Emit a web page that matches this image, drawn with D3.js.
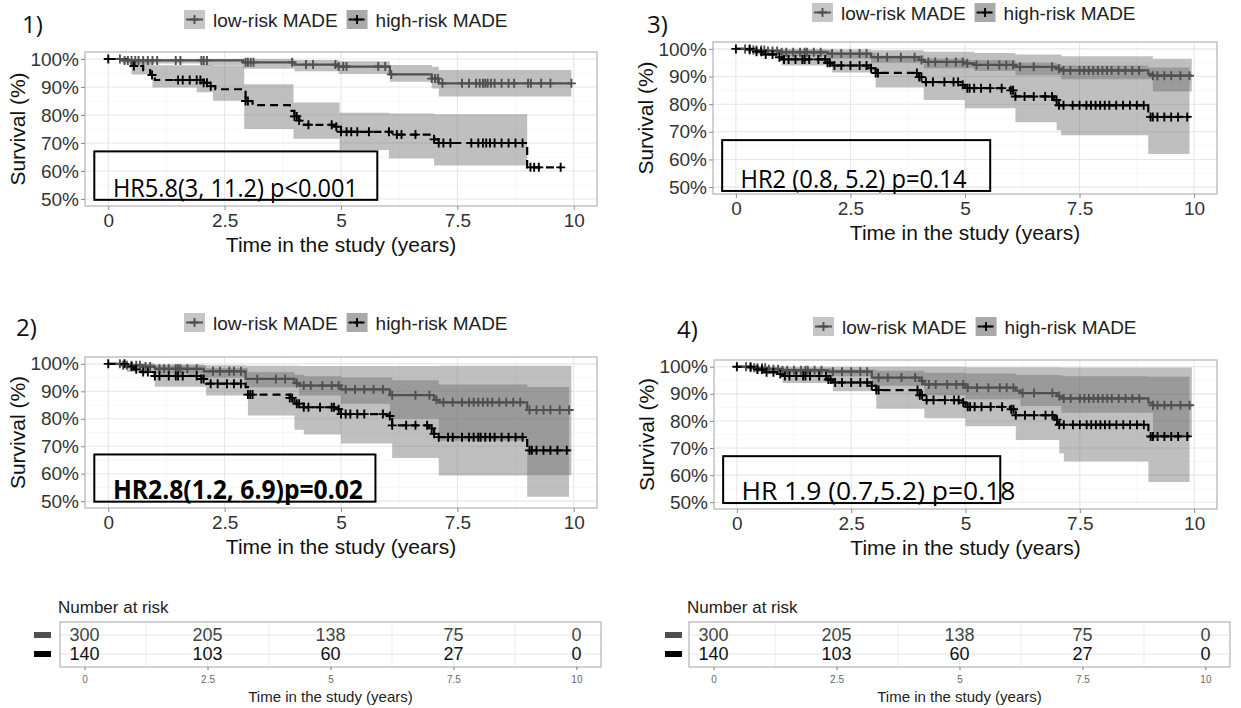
<!DOCTYPE html>
<html>
<head>
<meta charset="utf-8">
<script src="https://cdn.jsdelivr.net/npm/d3@7"></script>
<style>
  body { margin: 0; background: #fff; }
  svg { display: block; font-family: "Liberation Sans", Arial, sans-serif; }
</style>
</head>
<body>
<script>
// ---- data ----
var xTicks = [0, 2.5, 5, 7.5, 10];
var yTicks = [50, 60, 70, 80, 90, 100];
var xMinor = [1.25, 3.75, 6.25, 8.75];
var yMinor = [55, 65, 75, 85, 95];
var groups = ["low-risk MADE", "high-risk MADE"];

// panel 1
var p1LowSurv = [[0,100],[0.3,99.5],[2.9,98.8],[4.0,98],[4.95,97.3],[6.05,94.5],[6.95,93],[7.1,91.3]];
var p1HighSurv = [[0,100],[0.5,97.5],[0.75,96],[0.9,94.3],[1.0,92.5],[2.05,91.5],[2.2,90.3],[2.3,89.2],[2.95,85],[3.1,83.5],[3.9,81.5],[4.0,79.5],[4.1,78],[4.2,76.5],[4.9,75.8],[5.0,74],[6.1,73],[7.0,71.3],[7.1,70],[9.0,61.3]];
var p1LowCI = [[0,100,100],[0.3,100,98.4],[2.0,100,97.6],[2.9,100,96.5],[4.0,99.6,95.6],[4.95,99.2,94.6],[6.05,97.9,91.9],[6.95,97.2,89.5],[7.1,96.1,86.6]];
var p1HighCI = [[0.5,100,94.5],[0.95,97.8,89.8],[1.9,97.8,88.1],[2.25,97.5,85.1],[2.92,91,75],[3.98,84.5,71.5],[4.97,80.8,67.5],[6.03,80.5,64.5],[7.0,80.3,62]];
var p1Ends = [9.95, 9.7, 9.95, 9.0];
var p1LowCens = [0.25,0.35,0.42,0.5,0.58,0.65,0.75,0.85,0.95,1.05,1.45,1.55,2.0,2.05,2.12,2.95,3.0,3.06,3.12,3.95,4.25,4.4,4.88,4.95,5.05,5.12,5.8,5.95,6.08,6.95,7.02,7.08,7.18,7.6,7.75,7.9,7.98,8.05,8.1,8.15,8.22,8.3,8.45,8.6,8.72,9.02,9.08,9.3,9.5,9.95];
var p1HighCens = [0.55,0.94,1.5,1.6,1.75,1.9,1.98,2.05,2.12,2.2,2.95,3.0,4.0,4.05,4.1,4.3,4.8,4.9,5.0,5.12,5.22,5.35,5.6,6.03,6.2,6.3,6.6,7.0,7.1,7.2,7.35,7.8,7.95,8.05,8.12,8.2,8.3,8.45,8.6,8.75,8.9,9.07,9.15,9.25,9.72];

// panel 2
var p2LowSurv = [[0,100],[0.3,99.5],[0.7,99],[1.0,98.2],[2.05,97.3],[2.95,94.5],[4.0,93],[4.1,92.1],[5.0,90.7],[6.05,88.6],[7.0,86.9],[7.1,86],[9.0,83.2]];
var p2HighSurv = [[0,100],[0.4,99],[0.55,98],[0.7,97],[1.0,95.6],[2.0,94.5],[2.1,92.8],[2.95,91.5],[3.0,88.8],[3.9,87.6],[4.0,85.5],[4.2,84.2],[4.9,83.5],[5.0,81.7],[6.0,81],[6.1,77.6],[6.9,76.5],[7.0,74.5],[7.1,73.3],[9.0,68.5]];
var p2LowCI = [[0,100,100],[0.3,100,98.5],[1.0,99.8,96.5],[2.05,99.5,95],[2.95,99.3,91.5],[4.1,99.2,88.5],[5.0,99.2,85.5],[6.05,99.2,80],[7.1,99.3,72],[9.0,99.3,59.4]];
var p2HighCI = [[0.4,100,97],[1.0,99.5,91.7],[2.1,98.5,88.5],[3.0,97,81.2],[4.0,96,76],[4.2,95.5,74.3],[5.0,95,71],[6.1,94,65.7],[7.1,92.5,59.3],[9.0,91.6,51.6]];
var p2Ends = [9.95, 9.9, 9.95, 9.9];
var p2LowCens = [0.25,0.32,0.4,0.5,0.6,0.68,0.8,0.9,1.1,1.2,1.3,1.45,1.5,1.55,1.7,1.9,2.25,2.4,2.6,2.7,2.85,3.2,3.6,3.8,4.05,4.2,4.35,4.6,4.8,4.95,5.1,5.3,5.5,5.7,5.9,6.1,6.6,6.9,7.05,7.2,7.4,7.6,7.75,7.85,7.95,8.05,8.15,8.25,8.4,8.55,8.7,8.85,9.05,9.2,9.35,9.5,9.7,9.9];
var p2HighCens = [0.35,0.5,0.6,0.75,0.85,1.0,1.1,1.3,1.45,1.5,1.6,1.9,2.0,2.05,2.2,2.35,2.55,2.7,2.85,3.0,3.05,3.1,3.9,3.95,4.05,4.1,4.2,4.3,4.55,4.8,4.85,4.95,5.0,5.1,5.2,5.35,5.5,5.9,6.05,6.1,6.4,6.6,6.85,6.95,7.0,7.1,7.3,7.4,7.6,7.75,7.85,7.95,8.0,8.1,8.2,8.3,8.45,8.6,8.75,8.9,9.05,9.1,9.2,9.35,9.5,9.65,9.85];

// panel 3
var p3LowSurv = [[0,100],[0.3,99.6],[0.7,99.2],[1.0,98.8],[2.0,98.3],[2.95,97],[4.0,96],[4.1,95.3],[5.0,94.8],[5.2,94.2],[6.1,93.5],[7.0,92.8],[7.1,92.2],[9.0,91],[9.1,90.3]];
var p3HighSurv = [[0,100],[0.4,99],[0.6,98],[0.9,97],[1.0,96.2],[2.0,95],[2.1,94],[2.95,93],[3.05,91.3],[4.0,89.8],[4.1,88],[4.9,87],[5.0,85.8],[6.0,85],[6.1,82.8],[6.95,81.5],[7.05,79.6],[9.0,75.4]];
var p3LowCI = [[0,100,100],[0.3,100,99],[1.0,100,97.5],[2.0,99.8,96.5],[2.95,99.5,95],[4.1,99,93],[5.2,98.5,92],[6.1,98,90.5],[7.1,97.3,89],[9.1,96.4,84.6]];
var p3HighCI = [[0.4,100,98],[1.0,99.5,94],[2.1,98.5,91.5],[3.05,97.5,86],[4.1,96.5,81.5],[5.0,96,78.5],[6.1,95,73.5],[7.0,94.5,70.6],[7.1,94,68.8],[9.0,93.3,62]];
var p3Ends = [9.95, 9.9, 9.95, 9.9];
var p3LowCens = [0.2,0.3,0.38,0.45,0.55,0.62,0.7,0.8,0.9,1.0,1.1,1.25,1.4,1.5,1.55,1.7,1.85,2.1,2.3,2.5,2.7,2.85,3.1,3.3,3.6,3.9,4.05,4.2,4.35,4.6,4.8,4.95,5.05,5.25,5.5,5.75,5.9,6.05,6.2,6.5,6.9,7.05,7.15,7.3,7.5,7.6,7.7,7.8,7.9,8.0,8.1,8.2,8.35,8.5,8.65,8.8,9.1,9.2,9.35,9.5,9.7,9.9];
var p3HighCens = [0.3,0.45,0.55,0.65,0.8,0.95,1.05,1.15,1.3,1.45,1.5,1.6,1.8,1.95,2.0,2.05,2.15,2.3,2.5,2.7,2.85,2.95,3.05,3.1,3.95,4.0,4.05,4.15,4.3,4.55,4.75,4.85,4.95,5.05,5.1,5.2,5.35,5.55,5.8,6.0,6.05,6.1,6.3,6.5,6.75,6.9,7.0,7.05,7.15,7.35,7.5,7.65,7.75,7.85,7.95,8.05,8.15,8.3,8.45,8.6,8.75,8.9,9.05,9.1,9.2,9.35,9.5,9.65,9.85];

// panel 4
var p4LowSurv = [[0,100],[0.3,99.6],[0.7,99.1],[1.0,98.7],[2.0,98.2],[2.95,96],[4.0,94.8],[4.1,93.5],[5.0,92.3],[6.1,91.2],[6.2,90.3],[7.0,89.2],[7.1,88.3],[9.0,86.8],[9.1,85.8]];
var p4HighSurv = [[0,100],[0.4,99],[0.6,98],[0.9,97.3],[1.0,96.6],[2.0,95.3],[2.1,94.2],[2.95,93],[3.05,91.4],[4.0,89.5],[4.1,87.7],[4.9,86.8],[5.0,85.2],[6.0,84.3],[6.1,82.1],[6.95,80.5],[7.05,78.6],[9.0,74.3]];
var p4LowCI = [[0,100,100],[0.3,100,99],[1.0,100,97.5],[2.0,100,96.5],[2.95,100,93],[4.1,100,89.5],[5.0,99.8,88],[6.2,99.8,85.5],[7.1,99.7,83],[9.1,99.7,74.3]];
var p4HighCI = [[0.4,100,98],[1.0,99.5,94],[2.1,99,91],[3.05,98.5,84.5],[4.1,97.8,81],[5.0,97.5,78],[6.1,97,73],[7.05,96.8,68],[7.15,96.5,65],[9.0,96.3,57.5]];
var p4Ends = [9.95, 9.9, 9.95, 9.9];
var p4LowCens = [0.2,0.3,0.38,0.45,0.55,0.62,0.7,0.8,0.9,1.0,1.1,1.25,1.4,1.5,1.55,1.7,1.85,2.1,2.3,2.5,2.7,2.85,3.1,3.3,3.6,3.9,4.05,4.2,4.35,4.6,4.8,4.95,5.05,5.25,5.5,5.75,5.9,6.05,6.25,6.5,6.9,7.05,7.15,7.3,7.5,7.6,7.7,7.8,7.9,8.0,8.1,8.2,8.35,8.5,8.65,8.8,9.1,9.2,9.35,9.5,9.7,9.9];
var p4HighCens = [0.3,0.45,0.55,0.65,0.8,0.95,1.05,1.15,1.3,1.45,1.5,1.6,1.8,1.95,2.0,2.05,2.15,2.3,2.5,2.7,2.85,2.95,3.05,3.1,3.95,4.0,4.05,4.15,4.3,4.55,4.75,4.85,4.95,5.05,5.1,5.2,5.35,5.55,5.8,6.0,6.05,6.1,6.3,6.5,6.75,6.9,7.0,7.05,7.15,7.35,7.5,7.65,7.75,7.85,7.95,8.05,8.15,8.3,8.45,8.6,8.75,8.9,9.05,9.1,9.2,9.35,9.5,9.65,9.85];

// number at risk
var riskTimes = [0, 2.5, 5, 7.5, 10];
var riskLow = [300, 205, 138, 75, 0];
var riskHigh = [140, 103, 60, 27, 0];

var hrLabels = ["HR5.8(3, 11.2) p<0.001", "HR2.8(1.2, 6.9)p=0.02", "HR2 (0.8, 5.2) p=0.14", "HR 1.9 (0.7,5.2) p=0.18"];

// ---- layout ----
var W = 1241, H = 708;
var lowCol = "#505050", highCol = "#000000";
var lowFill = "#c6c6c6", highFill = "#a9a9a9";
var bandFill = "#676767", bandAlpha = 0.42;

var svg = d3.select("body").append("svg").attr("width", W).attr("height", H);

var panels = [
  {tag: "1)", tagX: 22, tagY: 33, x: 85, y: 52, w: 512, h: 154, legY: 27, hrLen: 245, hrBold: false, hrRight: 5.78, hrBottom: 49.7,
   low: p1LowSurv, high: p1HighSurv, lowCI: p1LowCI, highCI: p1HighCI, ends: p1Ends, lowCens: p1LowCens, highCens: p1HighCens, hr: hrLabels[0]},
  {tag: "2)", tagX: 16, tagY: 336, x: 85, y: 357, w: 512, h: 151, legY: 330, hrLen: 250, hrBold: true, hrRight: 5.74, hrBottom: 49.8,
   low: p2LowSurv, high: p2HighSurv, lowCI: p2LowCI, highCI: p2HighCI, ends: p2Ends, lowCens: p2LowCens, highCens: p2HighCens, hr: hrLabels[1]},
  {tag: "3)", tagX: 647, tagY: 33, x: 713, y: 42, w: 504, h: 152, legY: 20, hrLen: 226, hrBold: false, hrRight: 5.55, hrBottom: 48.6,
   low: p3LowSurv, high: p3HighSurv, lowCI: p3LowCI, highCI: p3HighCI, ends: p3Ends, lowCens: p3LowCens, highCens: p3HighCens, hr: hrLabels[2]},
  {tag: "4)", tagX: 677, tagY: 338, x: 714, y: 360, w: 503, h: 149, legY: 334, hrLen: 274, hrBold: false, hrRight: 5.76, hrBottom: 49.7,
   low: p4LowSurv, high: p4HighSurv, lowCI: p4LowCI, highCI: p4HighCI, ends: p4Ends, lowCens: p4LowCens, highCens: p4HighCens, hr: hrLabels[3]}
];

function stepValue(steps, t) {
  var v = steps[0][1];
  steps.forEach(function(d){ if (d[0] <= t) v = d[1]; });
  return v;
}

function plus(g, cx, cy, col) {
  g.append("path")
    .attr("d", "M" + (cx - 4.5) + "," + cy + "h9M" + cx + "," + (cy - 4.5) + "v9")
    .attr("stroke", col).attr("stroke-width", 1.9).attr("fill", "none");
}

function drawPanel(p, i) {
  var g = svg.append("g");
  var x = d3.scaleLinear().domain([-0.5, 10.5]).range([p.x, p.x + p.w]);
  var y = d3.scaleLinear().domain([47.5, 102.5]).range([p.y + p.h, p.y]);

  g.append("clipPath").attr("id", "clip" + i)
    .append("rect").attr("x", p.x).attr("y", p.y).attr("width", p.w).attr("height", p.h);

  // grid
  g.selectAll(".vmin").data(xMinor).enter().append("line")
    .attr("x1", d => x(d)).attr("x2", d => x(d)).attr("y1", p.y).attr("y2", p.y + p.h)
    .attr("stroke", "#f2f2f2").attr("stroke-width", 0.6);
  g.selectAll(".hmin").data(yMinor).enter().append("line")
    .attr("x1", p.x).attr("x2", p.x + p.w).attr("y1", d => y(d)).attr("y2", d => y(d))
    .attr("stroke", "#f2f2f2").attr("stroke-width", 0.6);
  g.selectAll(".vmaj").data(xTicks).enter().append("line")
    .attr("x1", d => x(d)).attr("x2", d => x(d)).attr("y1", p.y).attr("y2", p.y + p.h)
    .attr("stroke", "#e6e6e6").attr("stroke-width", 1.1);
  g.selectAll(".hmaj").data(yTicks).enter().append("line")
    .attr("x1", p.x).attr("x2", p.x + p.w).attr("y1", d => y(d)).attr("y2", d => y(d))
    .attr("stroke", "#e6e6e6").attr("stroke-width", 1.1);

  var plot = g.append("g").attr("clip-path", "url(#clip" + i + ")");

  // confidence bands
  var area = d3.area().curve(d3.curveStepAfter)
    .x(d => x(d[0])).y0(d => y(d[2])).y1(d => y(d[1]));
  [[p.lowCI, p.ends[2]], [p.highCI, p.ends[3]]].forEach(function(b){
    var last = b[0][b[0].length - 1];
    plot.append("path").datum(b[0].concat([[b[1], last[1], last[2]]]))
      .attr("d", area).attr("fill", bandFill).attr("fill-opacity", bandAlpha);
  });

  // survival curves
  var line = d3.line().curve(d3.curveStepAfter).x(d => x(d[0])).y(d => y(d[1]));
  [[p.low, p.ends[0], lowCol, null], [p.high, p.ends[1], highCol, "8,5"]].forEach(function(s){
    var last = s[0][s[0].length - 1];
    plot.append("path").datum(s[0].concat([[s[1], last[1]]]))
      .attr("d", line).attr("fill", "none").attr("stroke", s[2]).attr("stroke-width", 2.2)
      .attr("stroke-dasharray", s[3]);
  });

  // censor marks
  plus(plot, x(0), y(100), highCol);
  p.lowCens.forEach(t => plus(plot, x(t), y(stepValue(p.low, t)), lowCol));
  p.highCens.forEach(t => plus(plot, x(t), y(stepValue(p.high, t)), highCol));

  // border
  g.append("rect").attr("x", p.x).attr("y", p.y).attr("width", p.w).attr("height", p.h)
    .attr("fill", "none").attr("stroke", "#b3b3b3").attr("stroke-width", 1.2);

  // axes
  var ax = g.append("g").attr("transform", "translate(0," + (p.y + p.h) + ")")
    .call(d3.axisBottom(x).tickValues(xTicks).tickFormat(d3.format("")).tickSize(4));
  ax.selectAll("text").attr("y", 21).attr("dy", null);
  var ay = g.append("g").attr("transform", "translate(" + p.x + ",0)")
    .call(d3.axisLeft(y).tickValues(yTicks).tickFormat(d => d + "%").tickSize(4));
  ay.selectAll("text").attr("x", -6);
  [ax, ay].forEach(function(a){
    a.select(".domain").remove();
    a.selectAll("line").attr("stroke", "#8c8c8c");
    a.selectAll("text").attr("font-size", 19).attr("fill", "#333").attr("font-family", "Liberation Sans, Arial, sans-serif");
  });

  g.append("text").attr("x", x(5)).attr("y", p.y + p.h + 46)
    .attr("text-anchor", "middle").attr("font-size", 21).attr("fill", "#111")
    .text("Time in the study (years)");
  g.append("text")
    .attr("transform", "translate(" + (p.x - 60) + "," + (p.y + p.h / 2) + ") rotate(-90)")
    .attr("text-anchor", "middle").attr("font-size", 21).attr("fill", "#111")
    .text("Survival (%)");

  // panel tag
  g.append("text").attr("x", p.tagX).attr("y", p.tagY)
    .attr("font-family", "Open Sans, sans-serif").attr("font-size", 24).attr("fill", "#111")
    .text(p.tag);

  // legend
  var lx = p.x + 99;
  [[groups[0], lowFill, lowCol, null], [groups[1], highFill, highCol, "4,2"]].forEach(function(it){
    g.append("rect").attr("x", lx).attr("y", p.legY - 17).attr("width", 21).attr("height", 19).attr("fill", it[1]);
    g.append("line").attr("x1", lx + 2).attr("x2", lx + 19).attr("y1", p.legY - 7.5).attr("y2", p.legY - 7.5)
      .attr("stroke", it[2]).attr("stroke-width", 2).attr("stroke-dasharray", it[3]);
    plus(g, lx + 10.5, p.legY - 7.5, it[2]);
    var t = g.append("text").attr("x", lx + 29).attr("y", p.legY)
      .attr("font-size", 19).attr("fill", "#222").text(it[0]);
    lx = lx + 29 + t.node().getComputedTextLength() + 9;
  });

  // hazard ratio box
  g.append("rect").attr("x", x(-0.3)).attr("y", y(67))
    .attr("width", x(p.hrRight) - x(-0.3)).attr("height", y(p.hrBottom) - y(67))
    .attr("fill", "none").attr("stroke", "#000").attr("stroke-width", 2);
  g.append("text").attr("x", x(0.1)).attr("y", y(p.hrBottom + 1.1))
    .attr("font-family", "Open Sans, sans-serif").attr("font-size", 26)
    .attr("font-weight", p.hrBold ? "bold" : "normal").attr("fill", "#000")
    .attr("textLength", p.hrLen).attr("lengthAdjust", "spacingAndGlyphs")
    .text(p.hr);
}

panels.forEach(drawPanel);

// ---- number at risk tables ----
var tables = [{x: 60, y: 622, w: 541, h: 45, keyX: 34}, {x: 689, y: 622, w: 541, h: 45, keyX: 665}];

tables.forEach(function(tb){
  var g = svg.append("g");
  var x = d3.scaleLinear().domain([-0.5, 10.5]).range([tb.x, tb.x + tb.w]);
  var row = d3.scalePoint().domain(groups).range([tb.y + 13, tb.y + 32]);

  g.append("text").attr("x", tb.x - 2).attr("y", tb.y - 9).attr("font-size", 17).attr("fill", "#222")
    .text("Number at risk");

  g.selectAll(".gv").data(xTicks.concat(xMinor)).enter().append("line")
    .attr("x1", d => x(d)).attr("x2", d => x(d)).attr("y1", tb.y).attr("y2", tb.y + tb.h)
    .attr("stroke", "#ececec").attr("stroke-width", 1);
  g.selectAll(".gh").data(groups).enter().append("line")
    .attr("x1", tb.x).attr("x2", tb.x + tb.w).attr("y1", d => row(d)).attr("y2", d => row(d))
    .attr("stroke", "#e6e6e6").attr("stroke-width", 1);
  g.append("rect").attr("x", tb.x).attr("y", tb.y).attr("width", tb.w).attr("height", tb.h)
    .attr("fill", "none").attr("stroke", "#b3b3b3").attr("stroke-width", 1.2);

  [[riskLow, groups[0], lowCol, "#444"], [riskHigh, groups[1], highCol, "#111"]].forEach(function(r){
    g.selectAll(null).data(r[0]).enter().append("text")
      .attr("x", (d, j) => x(riskTimes[j])).attr("y", row(r[1])).attr("dy", "0.36em")
      .attr("text-anchor", "middle").attr("font-size", 18).attr("fill", r[3])
      .text(d => d);
    g.append("rect").attr("x", tb.keyX).attr("y", row(r[1]) - 3).attr("width", 17).attr("height", 6)
      .attr("fill", r[2]);
  });

  var ax = g.append("g").attr("transform", "translate(0," + (tb.y + tb.h) + ")")
    .call(d3.axisBottom(x).tickValues(xTicks).tickFormat(d3.format("")).tickSize(3));
  ax.select(".domain").remove();
  ax.selectAll("line").attr("stroke", "#777");
  ax.selectAll("text").attr("y", 16).attr("dy", null).attr("font-size", 10).attr("fill", "#666")
    .attr("font-family", "Liberation Sans, Arial, sans-serif");

  g.append("text").attr("x", x(5)).attr("y", tb.y + tb.h + 35)
    .attr("text-anchor", "middle").attr("font-size", 15).attr("fill", "#222")
    .text("Time in the study (years)");
});
</script>
</body>
</html>
